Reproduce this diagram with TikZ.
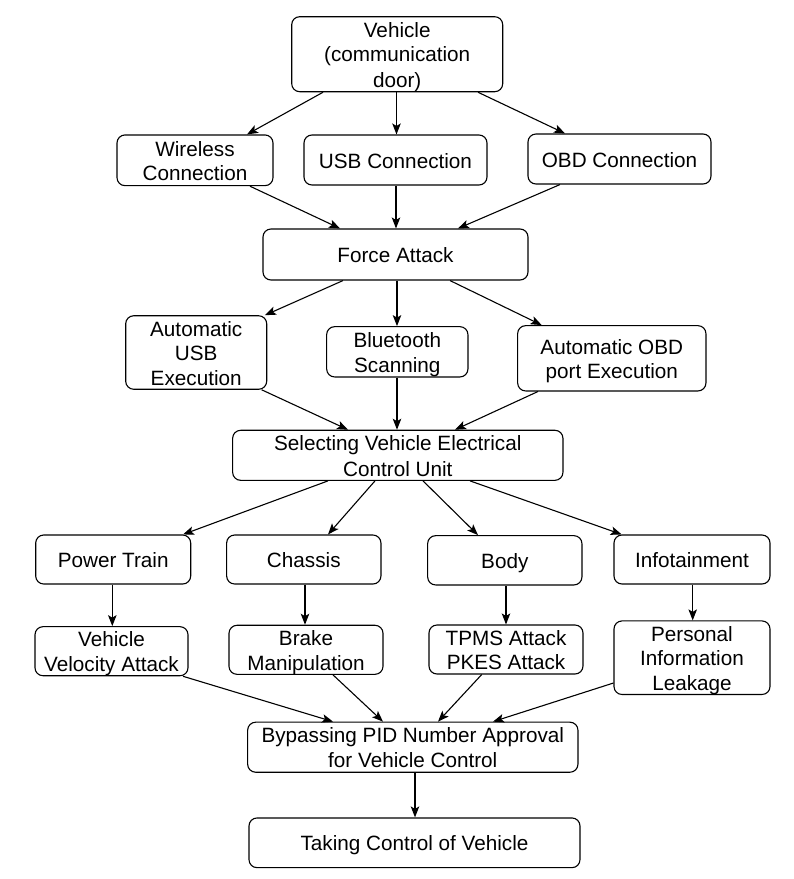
\documentclass[tikz,border=0pt]{standalone}
\usepackage{fontspec}
\setmainfont{Liberation Sans}
\usetikzlibrary{arrows.meta}
\newcommand\ls{\rule[-4.25pt]{0pt}{24.5pt}}
\begin{document}
\begin{tikzpicture}[x=1pt,y=-1pt,
  box/.style={draw, line width=1.1pt, rounded corners=8pt, align=center, inner sep=0pt,
    font=\fontsize{20.7}{24.5}\selectfont},
  arr/.style={line width=1.1pt, -{Stealth[length=11pt,width=8.5pt,inset=2.5pt]}}]
\fill[white] (0,0) rectangle (794,879);
\useasboundingbox (0,0) rectangle (794,879);
% nodes
\node[box, minimum width=211pt, minimum height=75pt] (veh) at (397.2,54.2) {\ls Vehicle\\\ls (communication\\\ls door)};
\node[box, minimum width=156pt, minimum height=50.7pt] (wir) at (195,160.3) {\ls Wireless\\\ls Connection};
\node[box, minimum width=183pt, minimum height=50pt] (usb) at (395.5,160) {\ls USB Connection};
\node[box, minimum width=183pt, minimum height=50pt] (obd) at (619.5,159) {\ls OBD Connection};
\node[box, minimum width=265pt, minimum height=51pt] (force) at (395.5,254.5) {\ls Force Attack};
\node[box, minimum width=141pt, minimum height=69pt] (ausb) at (196.2,352.5) {\ls Automatic\\\ls USB\\\ls Execution};
\node[box, minimum width=141.3pt, minimum height=50.3pt] (blue) at (397.3,351.8) {\ls Bluetooth\\\ls Scanning};
\node[box, minimum width=188.3pt, minimum height=65.3pt] (aobd) at (611.8,358.3) {\ls Automatic OBD\\\ls port Execution};
\node[box, minimum width=330.3pt, minimum height=49.3pt] (sel) at (397.8,455.3) {\ls Selecting Vehicle Electrical\\\ls Control Unit};
\node[box, minimum width=155pt, minimum height=49pt] (pow) at (113.2,559.5) {\ls Power Train};
\node[box, minimum width=154.3pt, minimum height=49pt] (cha) at (303.8,559.5) {\ls Chassis};
\node[box, minimum width=154.3pt, minimum height=49.3pt] (bod) at (504.8,560.3) {\ls Body};
\node[box, minimum width=156pt, minimum height=49pt] (inf) at (692,559.5) {\ls Infotainment};
\node[box, minimum width=153pt, minimum height=49pt] (vel) at (111.5,651.2) {\ls Vehicle\\\ls Velocity Attack};
\node[box, minimum width=154pt, minimum height=48.3pt] (brk) at (306,649.8) {\ls Brake\\\ls Manipulation};
\node[box, minimum width=154pt, minimum height=49pt] (tpms) at (506,649.5) {\ls TPMS Attack\\\ls PKES Attack};
\node[box, minimum width=156pt, minimum height=70pt] (pers) at (692,657.7) {\ls Personal\\\ls Information\\\ls Leakage};
\node[box, minimum width=330.3pt, minimum height=49pt] (byp) at (412.8,747.2) {\ls Bypassing PID Number Approval\\\ls for Vehicle Control};
\node[box, minimum width=331pt, minimum height=49.7pt] (take) at (414.5,842.8) {\ls Taking Control of Vehicle};
% connectors
\draw[arr] ([xshift=-74.2pt]veh.south) -- ([xshift=52pt]wir.north);
\draw[arr] ([xshift=-0.7pt]veh.south) -- ([xshift=1pt]usb.north);
\draw[arr] ([xshift=80.8pt]veh.south) -- ([xshift=-54.5pt]obd.north);
\draw[arr] ([xshift=55pt]wir.south) -- ([xshift=-55.5pt]force.north);
\draw[arr] ([xshift=0.5pt]usb.south) -- ([xshift=0.5pt]force.north);
\draw[arr] ([xshift=-59.5pt]obd.south) -- ([xshift=62.5pt]force.north);
\draw[arr] ([xshift=-52.5pt]force.south) -- ([xshift=68.8pt]ausb.north);
\draw[arr] ([xshift=1.5pt]force.south) -- ([xshift=-0.3pt]blue.north);
\draw[arr] ([xshift=54.5pt]force.south) -- ([xshift=-70.1pt]aobd.north);
\draw[arr] ([xshift=65.5pt]ausb.south) -- ([xshift=-49.8pt]sel.north);
\draw[arr] ([xshift=-0.3pt]blue.south) -- ([xshift=-0.8pt]sel.north);
\draw[arr] ([xshift=-73.8pt]aobd.south) -- ([xshift=57.2pt]sel.north);
\draw[arr] ([xshift=-69.8pt]sel.south) -- ([xshift=69.8pt]pow.north);
\draw[arr] ([xshift=-22.8pt]sel.south) -- ([xshift=24.2pt]cha.north);
\draw[arr] ([xshift=25.2pt]sel.south) -- ([xshift=-26.8pt]bod.north);
\draw[arr] ([xshift=72.2pt]sel.south) -- ([xshift=-70.3pt]inf.north);
\draw[arr] ([xshift=-0.9pt]pow.south) -- ([xshift=0.8pt]vel.north);
\draw[arr] ([xshift=1.2pt]cha.south) -- ([xshift=-1pt]brk.north);
\draw[arr] ([xshift=1.2pt]bod.south) -- (tpms.north);
\draw[arr] ([xshift=0.7pt]inf.south) -- ([xshift=0.7pt]pers.north);
\draw[arr] ([xshift=71.5pt]vel.south) -- ([xshift=-79.8pt]byp.north);
\draw[arr] ([xshift=27pt]brk.south) -- ([xshift=-29.8pt]byp.north);
\draw[arr] ([xshift=-24.3pt]tpms.south) -- ([xshift=25.2pt]byp.north);
\draw[arr] ([yshift=-25.3pt]pers.west) -- ([xshift=80.2pt]byp.north);
\draw[arr] ([xshift=2.2pt]byp.south) -- ([xshift=0.5pt]take.north);
\end{tikzpicture}
\end{document}
